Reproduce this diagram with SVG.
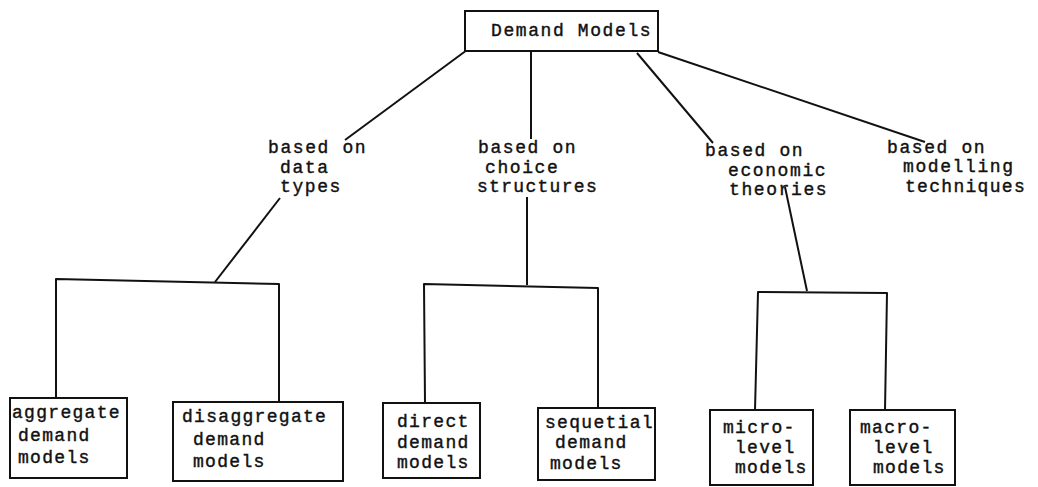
<svg xmlns="http://www.w3.org/2000/svg" width="1038" height="487" viewBox="0 0 1038 487">
<style>
  .bg { fill: #ffffff; }
  .box { fill: #ffffff; stroke: #111111; stroke-width: 2; }
  .conn { fill: none; stroke: #111111; stroke-width: 2; stroke-linejoin: round; }
  text { font-family: "Liberation Mono", "Courier New", monospace; font-size: 18px; letter-spacing: 1.3px; fill: #111111; stroke: #111111; stroke-width: 0.4px; }
  .t { letter-spacing: 1.6px; }
</style>
<rect class="bg" x="0" y="0" width="1038" height="487"/>

<g id="connectors">
  <line class="conn" x1="467" y1="50" x2="345" y2="140"/>
  <line class="conn" x1="531" y1="52" x2="531" y2="139"/>
  <line class="conn" x1="637" y1="53" x2="713" y2="143"/>
  <line class="conn" x1="658" y1="52" x2="925" y2="142"/>
  <line class="conn" x1="280" y1="198" x2="215" y2="282"/>
  <line class="conn" x1="527" y1="197" x2="527" y2="285"/>
  <line class="conn" x1="785" y1="187" x2="807" y2="291"/>
  <path class="conn" d="M56,398 L56,279 L279,284 L279,402"/>
  <path class="conn" d="M425,403 L424,284 L598,288 L598,408"/>
  <path class="conn" d="M755,410 L758,292 L887,293 L885,410"/>
</g>

<g id="demand-models">
  <rect class="box" x="465" y="11" width="193" height="40"/>
  <text class="t" x="491" y="36">Demand Models</text>
</g>

<g id="label-data-types">
  <text class="t" x="268" y="153">based on</text>
  <text class="t" x="280" y="173">data</text>
  <text class="t" x="280" y="192">types</text>
</g>
<g id="label-choice-structures">
  <text class="t" x="478" y="153">based on</text>
  <text class="t" x="485" y="173">choice</text>
  <text x="477" y="192">structures</text>
</g>
<g id="label-economic-theories">
  <text class="t" x="705" y="156">based on</text>
  <text class="t" x="728" y="176">economic</text>
  <text class="t" x="729" y="195">theories</text>
</g>
<g id="label-modelling-techniques">
  <text class="t" x="887" y="153">based on</text>
  <text class="t" x="903" y="172">modelling</text>
  <text x="905" y="192">techniques</text>
</g>

<g id="aggregate">
  <rect class="box" x="10" y="398" width="117" height="80"/>
  <text x="12" y="418">aggregate</text>
  <text x="18" y="441">demand</text>
  <text x="18" y="463">models</text>
</g>
<g id="disaggregate">
  <rect class="box" x="173" y="402" width="170" height="79"/>
  <text x="182" y="422">disaggregate</text>
  <text x="193" y="445">demand</text>
  <text x="193" y="467">models</text>
</g>
<g id="direct">
  <rect class="box" x="383" y="403" width="97" height="75"/>
  <text x="397" y="427">direct</text>
  <text x="397" y="448">demand</text>
  <text x="397" y="468">models</text>
</g>
<g id="sequetial">
  <rect class="box" x="538" y="408" width="117" height="72"/>
  <text x="545" y="428">sequetial</text>
  <text x="555" y="448">demand</text>
  <text x="550" y="469">models</text>
</g>
<g id="micro">
  <rect class="box" x="710" y="410" width="103" height="75"/>
  <text x="723" y="433">micro-</text>
  <text x="735" y="453">level</text>
  <text x="735" y="473">models</text>
</g>
<g id="macro">
  <rect class="box" x="850" y="410" width="105" height="75"/>
  <text x="860" y="433">macro-</text>
  <text x="873" y="453">level</text>
  <text x="873" y="473">models</text>
</g>
</svg>
